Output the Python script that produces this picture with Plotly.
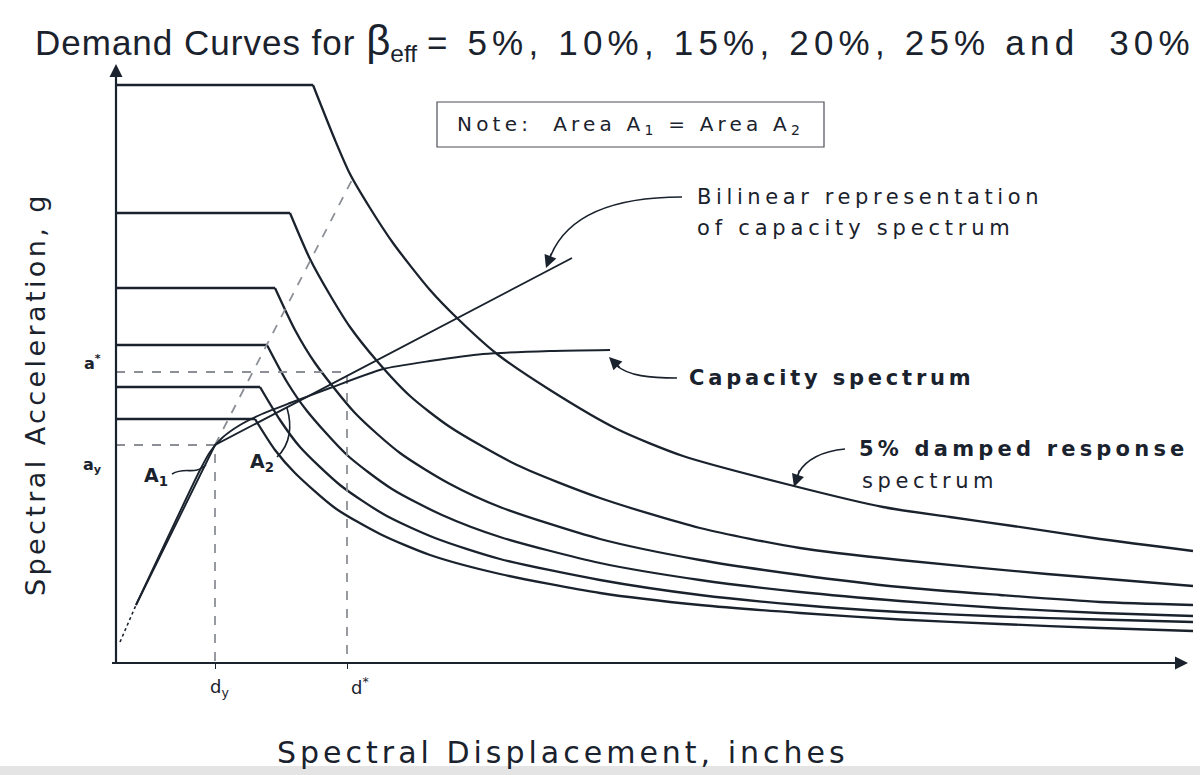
import plotly.graph_objects as go

# ---- demand spectra (Sd in inches, Sa in g), one per effective damping ----
beta_labels = ["5%", "10%", "15%", "20%", "25%", "30%"]

sd_b05 = [0.0, 1.97, 2.19, 2.34, 2.54, 2.77, 3.14, 3.41, 3.81, 4.34, 5.01, 5.67, 6.74, 7.67, 8.34, 8.97, 9.84, 10.77]
sa_b05 = [1.156, 1.156, 1.046, 0.978, 0.91, 0.84, 0.746, 0.69, 0.618, 0.546, 0.468, 0.414, 0.356, 0.312, 0.292, 0.274, 0.248, 0.224]

sd_b10 = [0.0, 1.74, 1.94, 2.14, 2.34, 2.61, 2.94, 3.34, 4.01, 4.84, 5.84, 6.84, 7.84, 9.31, 10.77]
sa_b10 = [0.90, 0.90, 0.808, 0.736, 0.672, 0.604, 0.534, 0.472, 0.396, 0.33, 0.27, 0.23, 0.206, 0.178, 0.154]

sd_b15 = [0.0, 1.59, 1.79, 1.99, 2.39, 2.84, 3.34, 3.84, 4.84, 5.84, 6.84, 7.84, 8.84, 9.84, 10.77]
sa_b15 = [0.75, 0.75, 0.666, 0.60, 0.50, 0.42, 0.358, 0.312, 0.248, 0.206, 0.176, 0.152, 0.136, 0.122, 0.116]

sd_b20 = [0.0, 1.51, 1.71, 1.91, 2.31, 2.76, 3.26, 3.84, 4.84, 5.84, 6.84, 7.84, 8.84, 9.84, 10.77]
sa_b20 = [0.636, 0.636, 0.562, 0.504, 0.416, 0.348, 0.296, 0.252, 0.20, 0.166, 0.142, 0.124, 0.11, 0.10, 0.094]

sd_b25 = [0.0, 1.44, 1.64, 1.84, 2.24, 2.69, 3.19, 3.84, 4.84, 5.84, 6.84, 7.84, 8.84, 9.84, 10.77]
sa_b25 = [0.552, 0.552, 0.486, 0.432, 0.356, 0.296, 0.25, 0.208, 0.166, 0.136, 0.116, 0.102, 0.093, 0.087, 0.082]

sd_b30 = [0.0, 1.39, 1.59, 1.79, 2.19, 2.64, 3.14, 3.84, 4.84, 5.84, 6.84, 7.84, 8.84, 9.84, 10.77]
sa_b30 = [0.488, 0.488, 0.426, 0.38, 0.31, 0.258, 0.216, 0.178, 0.14, 0.116, 0.10, 0.087, 0.078, 0.07, 0.064]

# ---- capacity spectrum and its bilinear representation ----
cap_sd = [0.20, 0.84, 0.94, 1.06, 1.24, 1.46, 1.74, 2.14, 2.67, 3.14, 3.67, 4.34, 4.94]
cap_sa = [0.116, 0.386, 0.422, 0.45, 0.476, 0.498, 0.52, 0.55, 0.588, 0.604, 0.618, 0.624, 0.626]

cap_start_sd = [0.04, 0.20]
cap_start_sa = [0.042, 0.116]

bil_sd = [0.20, 0.99, 4.56]
bil_sa = [0.116, 0.436, 0.81]

# initial-stiffness extension beyond yield
elastic_sd = [0.99, 2.37]
elastic_sa = [0.436, 0.97]

# yield and performance points
d_y, a_y = 0.99, 0.436
d_star, a_star = 2.31, 0.582

INK = "#1a222d"
GREY = "#8c9096"
FONT = "DejaVu Sans, Verdana, sans-serif"

# figure geometry (pixels)
W, H = 1200, 775
ML, MR, MT, MB = 116, 4, 70, 112
PW, PH = W - ML - MR, H - MT - MB
X_MAX = PW / 100.0
Y_MAX = PH / 500.0


def paper(px, py):
    return (px - ML) / PW, (H - MB - py) / PH


def data(px, py):
    return (px - ML) / 100.0, (H - MB - py) / 500.0


def spaced(s, ls):
    return f"<span style='letter-spacing:{ls}px'>{s}</span>"


fig = go.Figure()

demand = [(sd_b05, sa_b05), (sd_b10, sa_b10), (sd_b15, sa_b15),
          (sd_b20, sa_b20), (sd_b25, sa_b25), (sd_b30, sa_b30)]
for lbl, (sd, sa) in zip(beta_labels, demand):
    # constant-acceleration plateau
    fig.add_trace(go.Scatter(x=sd[:2], y=sa[:2], mode="lines", name=lbl,
                             line=dict(color=INK, width=2.3), hoverinfo="skip"))
    # descending branch
    fig.add_trace(go.Scatter(x=sd[1:], y=sa[1:], mode="lines", name=lbl,
                             line=dict(color=INK, width=2.3, shape="spline", smoothing=0.7),
                             hoverinfo="skip"))

# guide lines to yield and performance points
fig.add_trace(go.Scatter(x=[0, d_y, d_y], y=[a_y, a_y, 0], mode="lines",
                         line=dict(color=GREY, width=1.8, dash="dash"), hoverinfo="skip"))
fig.add_trace(go.Scatter(x=[0, d_star, d_star], y=[a_star, a_star, 0], mode="lines",
                         line=dict(color=GREY, width=1.8, dash="dash"), hoverinfo="skip"))
fig.add_trace(go.Scatter(x=elastic_sd, y=elastic_sa, mode="lines",
                         line=dict(color=GREY, width=1.8, dash="dash"), hoverinfo="skip"))
fig.add_trace(go.Scatter(x=cap_start_sd, y=cap_start_sa, mode="lines",
                         line=dict(color=INK, width=1.6, dash="dot"), hoverinfo="skip"))

fig.add_trace(go.Scatter(x=bil_sd, y=bil_sa, mode="lines", name="Bilinear",
                         line=dict(color=INK, width=1.9), hoverinfo="skip"))
fig.add_trace(go.Scatter(x=cap_sd, y=cap_sa, mode="lines", name="Capacity",
                         line=dict(color=INK, width=1.9, shape="spline", smoothing=0.6),
                         hoverinfo="skip"))

shapes = []
annotations = []


def text(px, py, s, size, anchor="left", angle=0, family=FONT, weight="normal"):
    x, y = paper(px, py)
    annotations.append(dict(x=x, y=y, xref="paper", yref="paper", text=s, showarrow=False,
                            xanchor=anchor, yanchor="middle", textangle=angle,
                            font=dict(family=family, size=size, color=INK, weight=weight)))


def leader(pts, tip, tail):
    (x0, y0), (x1, y1), (x2, y2), (x3, y3) = [data(*p) for p in pts]
    shapes.append(dict(type="path", xref="x", yref="y",
                       path=f"M {x0},{y0} C {x1},{y1} {x2},{y2} {x3},{y3}",
                       line=dict(color=INK, width=1.6)))
    if tip is not None:
        tx, ty = data(*tip)
        annotations.append(dict(x=tx, y=ty, xref="x", yref="y", text="", showarrow=True,
                                ax=tail[0], ay=tail[1], arrowhead=2, arrowsize=1.4,
                                arrowwidth=1.8, arrowcolor=INK))


# axes with arrowheads
shapes.append(dict(type="line", xref="paper", yref="paper", x0=paper(116, 663)[0], y0=0,
                   x1=paper(116, 72)[0], y1=paper(116, 72)[1], line=dict(color=INK, width=2.2)))
shapes.append(dict(type="line", xref="paper", yref="paper", x0=paper(112, 663)[0], y0=0,
                   x1=paper(1180, 663)[0], y1=0, line=dict(color=INK, width=2.2)))
ux, uy = paper(116, 64)
annotations.append(dict(x=ux, y=uy, xref="paper", yref="paper", text="", showarrow=True,
                        ax=0, ay=14, arrowhead=2, arrowsize=1.3, arrowwidth=2, arrowcolor=INK))
rx, ry = paper(1188, 663)
annotations.append(dict(x=rx, y=ry, xref="paper", yref="paper", text="", showarrow=True,
                        ax=-14, ay=0, arrowhead=2, arrowsize=1.3, arrowwidth=2, arrowcolor=INK))

# note box
bx0, by0 = paper(437, 147)
bx1, by1 = paper(824, 102)
shapes.append(dict(type="rect", xref="paper", yref="paper", x0=bx0, y0=by0, x1=bx1, y1=by1,
                   line=dict(color="#4a4f56", width=1.2)))
text(630, 125, spaced("Note:  Area A<sub>1</sub> = Area A<sub>2</sub>", 4.2), 20, anchor="center")

# leaders
leader([(682, 197), (615, 197), (568, 215), (551, 255)], (546, 268), (6, -16))
leader([(677, 378), (650, 378), (628, 376), (616, 365)], (609, 357), (12, 12))
leader([(845, 449), (822, 451), (806, 460), (799, 472)], (794, 487), (6, -18))
leader([(172, 474), (186, 466), (194, 476), (206, 465)], None, None)
leader([(277, 457), (291, 444), (292, 425), (287, 408)], None, None)

# callout texts
text(695, 197, spaced("Bilinear representation", 4.6), 21)
text(695, 228, spaced("of capacity spectrum", 4.8), 21)
text(687, 378, spaced("Capacity spectrum", 3.8), 21, weight="bold")
text(857, 449, spaced("5% damped response", 4.2), 21, weight="bold")
text(860, 481, spaced("spectrum", 4.6), 21)
text(156, 477, "A<sub>1</sub>", 19, anchor="center", weight="bold")
text(262, 463, "A<sub>2</sub>", 19, anchor="center", weight="bold")

# point labels
text(92, 362, "a<sup>*</sup>", 16, anchor="center", weight="bold")
text(92, 465, "a<sub>y</sub>", 16, anchor="center", weight="bold")
text(219, 688, "d<sub>y</sub>", 18, anchor="center")
text(360, 686, "d<sup>*</sup>", 18, anchor="center")

# titles
title_txt = (spaced("Demand Curves for ", 1.0)
             + "<span style='font-size:42px'>β</span><sub>eff</sub> "
             + spaced("= 5%, 10%, 15%, 20%, 25% and  30%", 5.2))
text(615, 42, title_txt, 35, anchor="center", family="Liberation Sans, Arial, sans-serif")
text(563, 752, spaced("Spectral Displacement, inches", 4.0), 30, anchor="center")
text(35, 394, spaced("Spectral Acceleration, g", 3.4), 27, anchor="center", angle=-90)

# light strip along the bottom edge
shapes.append(dict(type="rect", xref="paper", yref="paper", x0=paper(0, 0)[0], x1=paper(1200, 0)[0],
                   y0=paper(0, 775)[1], y1=paper(0, 766)[1], line=dict(width=0),
                   fillcolor="#e4e4e4", layer="below"))

fig.update_layout(
    width=W, height=H,
    margin=dict(l=ML, r=MR, t=MT, b=MB),
    paper_bgcolor="white", plot_bgcolor="white",
    showlegend=False,
    xaxis=dict(range=[0, X_MAX], showgrid=False, zeroline=False, showline=False,
               tickvals=[d_y, d_star], ticks="outside", ticklen=5, tickcolor=INK,
               showticklabels=False, fixedrange=True),
    yaxis=dict(range=[0, Y_MAX], showgrid=False, zeroline=False, showline=False,
               showticklabels=False, ticks="", fixedrange=True),
    shapes=shapes,
    annotations=annotations,
)

fig.write_html("out.html")
